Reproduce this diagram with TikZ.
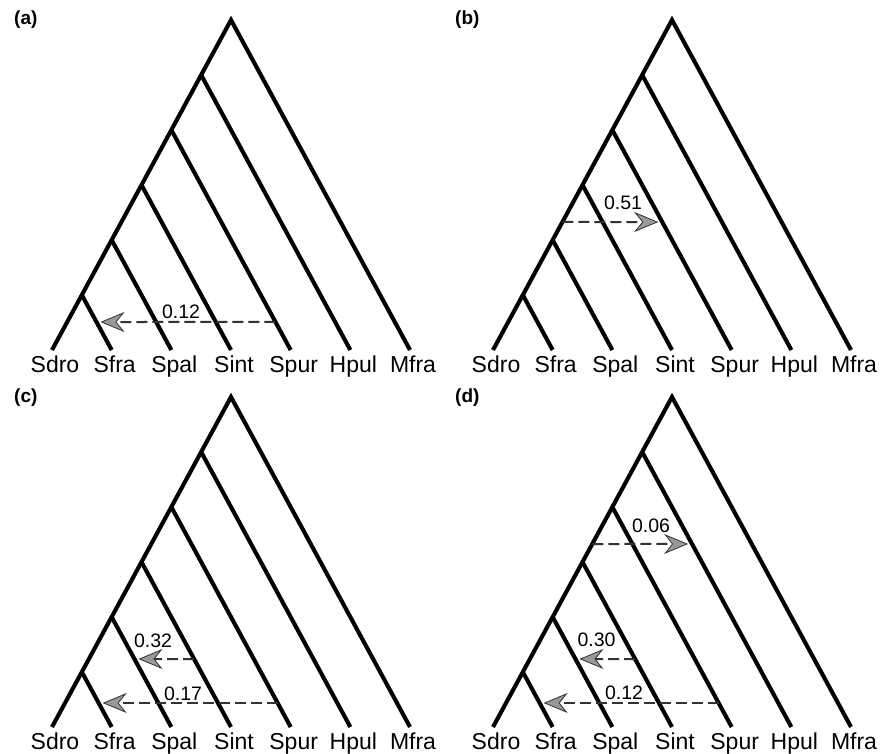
\documentclass[tikz,border=0pt]{standalone}
\usepackage{fontspec}
\setmainfont{Liberation Sans}
\usetikzlibrary{arrows.meta,calc}
\tikzset{
  branch/.style={line width=4.1pt, line join=miter, line cap=butt},
  hgt/.style={draw=black!80, line width=2pt, dash pattern=on 11pt off 5pt,
    -{Stealth[length=24pt,width=20pt,inset=8pt,fill=black!40,line width=0.8pt]},
    shorten >=4pt},
  leaflab/.style={anchor=base, font=\fontsize{23}{27}\selectfont, inner sep=0pt},
  numlab/.style={anchor=base, font=\fontsize{19.5}{23}\selectfont, inner sep=0pt},
  panlab/.style={anchor=base west, font=\fontsize{19}{23}\selectfont\bfseries, inner sep=0pt},
}
\newcommand\treepanel[4]{%
  \begin{scope}[shift={(#1,#2)}]
    \node[panlab] (#3lab) at (14,25) {(#3)};
    \foreach \i in {0,...,5} {
      \coordinate (#3n\i) at ({231-29.833*\i},{20+55*\i});
    }
    \foreach \nm [count=\k from 0] in {Sdro,Sfra,Spal,Sint,Spur,Hpul,Mfra} {
      \coordinate (#3L\nm) at ({52+59.667*\k},350);
      \node[leaflab] (#3\nm) at ({55+59.667*\k},372) {\nm};
    }
    \draw[branch] (#3LSdro) -- (#3n0) -- (#3LMfra);
    \draw[branch] (#3n1) -- (#3LHpul);
    \draw[branch] (#3n2) -- (#3LSpur);
    \draw[branch] (#3n3) -- (#3LSint);
    \draw[branch] (#3n4) -- (#3LSpal);
    \draw[branch] (#3n5) -- (#3LSfra);
    #4
  \end{scope}}
\begin{document}
\begin{tikzpicture}[x=1pt,y=-1pt]
\useasboundingbox (0,0) rectangle (891,754);
\fill[white] (0,0) rectangle (891,754);
% (a)
\treepanel{0}{0}{a}{%
  \coordinate (a1s) at ($(an2)!0.8727!(aLSpur)$);
  \coordinate (a1e) at ($(an5)!0.4909!(aLSfra)$);
  \draw[hgt] (a1s) -- (a1e);
  \node[numlab] (a1l) at (181,318) {0.12};
}
% (b)
\treepanel{441}{0}{b}{%
  \coordinate (b1s) at ($(bn3)!0.6727!(bn4)$);
  \coordinate (b1e) at ($(bn2)!0.4182!(bLSpur)$);
  \draw[hgt] (b1s) -- (b1e);
  \node[numlab] (b1l) at (182,209) {0.51};
}
% (c)
\treepanel{0}{377}{c}{%
  \coordinate (c1s) at ($(cn3)!0.5879!(cLSint)$);
  \coordinate (c1e) at ($(cn4)!0.3818!(cLSpal)$);
  \draw[hgt] (c1s) -- (c1e);
  \node[numlab] (c1l) at (153,270) {0.32};
  \coordinate (c2s) at ($(cn2)!0.8909!(cLSpur)$);
  \coordinate (c2e) at ($(cn5)!0.5636!(cLSfra)$);
  \draw[hgt] (c2s) -- (c2e);
  \node[numlab] (c2l) at (183,323) {0.17};
}
% (d)
\treepanel{441}{377}{d}{%
  \coordinate (d1s) at ($(dn2)!0.6727!(dn3)$);
  \coordinate (d1e) at ($(dn1)!0.3345!(dLHpul)$);
  \draw[hgt] (d1s) -- (d1e);
  \node[numlab] (d1l) at (210,155) {0.06};
  \coordinate (d2s) at ($(dn3)!0.5879!(dLSint)$);
  \coordinate (d2e) at ($(dn4)!0.3818!(dLSpal)$);
  \draw[hgt] (d2s) -- (d2e);
  \node[numlab] (d2l) at (155.5,269) {0.30};
  \coordinate (d3s) at ($(dn2)!0.8909!(dLSpur)$);
  \coordinate (d3e) at ($(dn5)!0.5636!(dLSfra)$);
  \draw[hgt] (d3s) -- (d3e);
  \node[numlab] (d3l) at (183,322) {0.12};
}
\end{tikzpicture}
\end{document}
